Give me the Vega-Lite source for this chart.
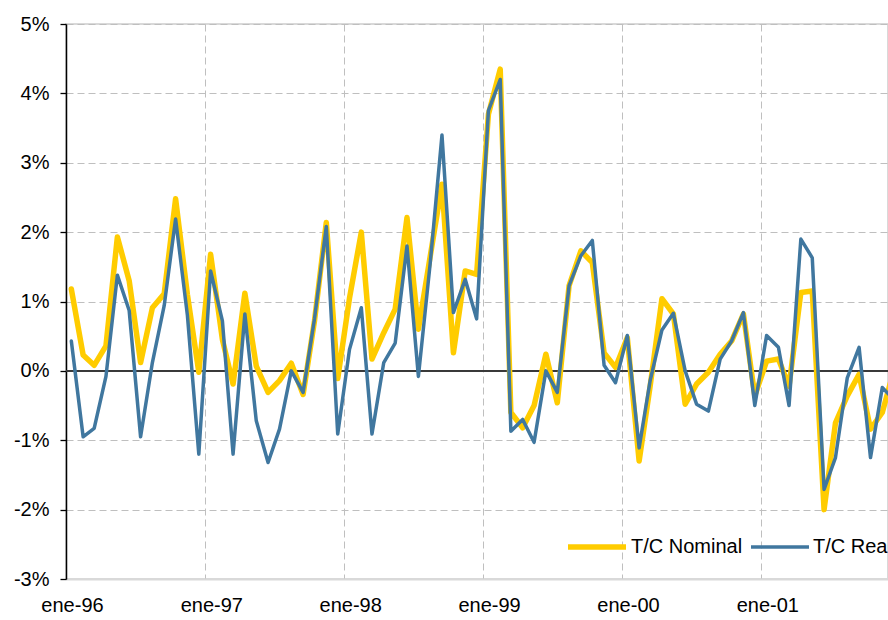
{
  "$schema": "https://vega.github.io/schema/vega-lite/v6.json",
  "width": 822,
  "height": 555,
  "autosize": {"type": "none"},
  "padding": {"left": 66, "top": 24, "right": 0, "bottom": 41},
  "background": "white",
  "config": {
    "font": "Liberation Sans",
    "view": {"stroke": "#D9D9D9", "strokeWidth": 2}
  },
  "datasets": {
    "tc": [
      {"date": "1996-01-15", "series": "T/C Nominal", "value": 1.18}, {"date": "1996-01-15", "series": "T/C Real", "value": 0.43},
      {"date": "1996-02-15", "series": "T/C Nominal", "value": 0.23}, {"date": "1996-02-15", "series": "T/C Real", "value": -0.95},
      {"date": "1996-03-15", "series": "T/C Nominal", "value": 0.08}, {"date": "1996-03-15", "series": "T/C Real", "value": -0.83},
      {"date": "1996-04-15", "series": "T/C Nominal", "value": 0.36}, {"date": "1996-04-15", "series": "T/C Real", "value": -0.08},
      {"date": "1996-05-15", "series": "T/C Nominal", "value": 1.93}, {"date": "1996-05-15", "series": "T/C Real", "value": 1.38},
      {"date": "1996-06-15", "series": "T/C Nominal", "value": 1.30}, {"date": "1996-06-15", "series": "T/C Real", "value": 0.87},
      {"date": "1996-07-15", "series": "T/C Nominal", "value": 0.12}, {"date": "1996-07-15", "series": "T/C Real", "value": -0.95},
      {"date": "1996-08-15", "series": "T/C Nominal", "value": 0.91}, {"date": "1996-08-15", "series": "T/C Real", "value": 0.12},
      {"date": "1996-09-15", "series": "T/C Nominal", "value": 1.11}, {"date": "1996-09-15", "series": "T/C Real", "value": 0.94},
      {"date": "1996-10-15", "series": "T/C Nominal", "value": 2.48}, {"date": "1996-10-15", "series": "T/C Real", "value": 2.19},
      {"date": "1996-11-15", "series": "T/C Nominal", "value": 1.10}, {"date": "1996-11-15", "series": "T/C Real", "value": 0.80},
      {"date": "1996-12-15", "series": "T/C Nominal", "value": -0.02}, {"date": "1996-12-15", "series": "T/C Real", "value": -1.20},
      {"date": "1997-01-15", "series": "T/C Nominal", "value": 1.68}, {"date": "1997-01-15", "series": "T/C Real", "value": 1.44},
      {"date": "1997-02-15", "series": "T/C Nominal", "value": 0.45}, {"date": "1997-02-15", "series": "T/C Real", "value": 0.72},
      {"date": "1997-03-15", "series": "T/C Nominal", "value": -0.19}, {"date": "1997-03-15", "series": "T/C Real", "value": -1.20},
      {"date": "1997-04-15", "series": "T/C Nominal", "value": 1.12}, {"date": "1997-04-15", "series": "T/C Real", "value": 0.82},
      {"date": "1997-05-15", "series": "T/C Nominal", "value": 0.07}, {"date": "1997-05-15", "series": "T/C Real", "value": -0.72},
      {"date": "1997-06-15", "series": "T/C Nominal", "value": -0.31}, {"date": "1997-06-15", "series": "T/C Real", "value": -1.32},
      {"date": "1997-07-15", "series": "T/C Nominal", "value": -0.14}, {"date": "1997-07-15", "series": "T/C Real", "value": -0.84},
      {"date": "1997-08-15", "series": "T/C Nominal", "value": 0.11}, {"date": "1997-08-15", "series": "T/C Real", "value": 0.0},
      {"date": "1997-09-15", "series": "T/C Nominal", "value": -0.34}, {"date": "1997-09-15", "series": "T/C Real", "value": -0.31},
      {"date": "1997-10-15", "series": "T/C Nominal", "value": 0.72}, {"date": "1997-10-15", "series": "T/C Real", "value": 0.75},
      {"date": "1997-11-15", "series": "T/C Nominal", "value": 2.14}, {"date": "1997-11-15", "series": "T/C Real", "value": 2.08},
      {"date": "1997-12-15", "series": "T/C Nominal", "value": -0.11}, {"date": "1997-12-15", "series": "T/C Real", "value": -0.91},
      {"date": "1998-01-15", "series": "T/C Nominal", "value": 1.05}, {"date": "1998-01-15", "series": "T/C Real", "value": 0.31},
      {"date": "1998-02-15", "series": "T/C Nominal", "value": 2.00}, {"date": "1998-02-15", "series": "T/C Real", "value": 0.91},
      {"date": "1998-03-15", "series": "T/C Nominal", "value": 0.17}, {"date": "1998-03-15", "series": "T/C Real", "value": -0.91},
      {"date": "1998-04-15", "series": "T/C Nominal", "value": 0.55}, {"date": "1998-04-15", "series": "T/C Real", "value": 0.12},
      {"date": "1998-05-15", "series": "T/C Nominal", "value": 0.89}, {"date": "1998-05-15", "series": "T/C Real", "value": 0.40},
      {"date": "1998-06-15", "series": "T/C Nominal", "value": 2.21}, {"date": "1998-06-15", "series": "T/C Real", "value": 1.80},
      {"date": "1998-07-15", "series": "T/C Nominal", "value": 0.60}, {"date": "1998-07-15", "series": "T/C Real", "value": -0.08},
      {"date": "1998-08-15", "series": "T/C Nominal", "value": 1.65}, {"date": "1998-08-15", "series": "T/C Real", "value": 1.55},
      {"date": "1998-09-15", "series": "T/C Nominal", "value": 2.69}, {"date": "1998-09-15", "series": "T/C Real", "value": 3.40},
      {"date": "1998-10-15", "series": "T/C Nominal", "value": 0.26}, {"date": "1998-10-15", "series": "T/C Real", "value": 0.84},
      {"date": "1998-11-15", "series": "T/C Nominal", "value": 1.44}, {"date": "1998-11-15", "series": "T/C Real", "value": 1.32},
      {"date": "1998-12-15", "series": "T/C Nominal", "value": 1.39}, {"date": "1998-12-15", "series": "T/C Real", "value": 0.75},
      {"date": "1999-01-15", "series": "T/C Nominal", "value": 3.70}, {"date": "1999-01-15", "series": "T/C Real", "value": 3.75},
      {"date": "1999-02-15", "series": "T/C Nominal", "value": 4.35}, {"date": "1999-02-15", "series": "T/C Real", "value": 4.20},
      {"date": "1999-03-15", "series": "T/C Nominal", "value": -0.60}, {"date": "1999-03-15", "series": "T/C Real", "value": -0.87},
      {"date": "1999-04-15", "series": "T/C Nominal", "value": -0.82}, {"date": "1999-04-15", "series": "T/C Real", "value": -0.70},
      {"date": "1999-05-15", "series": "T/C Nominal", "value": -0.50}, {"date": "1999-05-15", "series": "T/C Real", "value": -1.03},
      {"date": "1999-06-15", "series": "T/C Nominal", "value": 0.24}, {"date": "1999-06-15", "series": "T/C Real", "value": 0.0},
      {"date": "1999-07-15", "series": "T/C Nominal", "value": -0.46}, {"date": "1999-07-15", "series": "T/C Real", "value": -0.31},
      {"date": "1999-08-15", "series": "T/C Nominal", "value": 1.23}, {"date": "1999-08-15", "series": "T/C Real", "value": 1.23},
      {"date": "1999-09-15", "series": "T/C Nominal", "value": 1.73}, {"date": "1999-09-15", "series": "T/C Real", "value": 1.66},
      {"date": "1999-10-15", "series": "T/C Nominal", "value": 1.56}, {"date": "1999-10-15", "series": "T/C Real", "value": 1.88},
      {"date": "1999-11-15", "series": "T/C Nominal", "value": 0.26}, {"date": "1999-11-15", "series": "T/C Real", "value": 0.08},
      {"date": "1999-12-15", "series": "T/C Nominal", "value": 0.05}, {"date": "1999-12-15", "series": "T/C Real", "value": -0.17},
      {"date": "2000-01-15", "series": "T/C Nominal", "value": 0.48}, {"date": "2000-01-15", "series": "T/C Real", "value": 0.51},
      {"date": "2000-02-15", "series": "T/C Nominal", "value": -1.30}, {"date": "2000-02-15", "series": "T/C Real", "value": -1.11},
      {"date": "2000-03-15", "series": "T/C Nominal", "value": -0.22}, {"date": "2000-03-15", "series": "T/C Real", "value": -0.14},
      {"date": "2000-04-15", "series": "T/C Nominal", "value": 1.04}, {"date": "2000-04-15", "series": "T/C Real", "value": 0.59},
      {"date": "2000-05-15", "series": "T/C Nominal", "value": 0.82}, {"date": "2000-05-15", "series": "T/C Real", "value": 0.83},
      {"date": "2000-06-15", "series": "T/C Nominal", "value": -0.48}, {"date": "2000-06-15", "series": "T/C Real", "value": 0.0},
      {"date": "2000-07-15", "series": "T/C Nominal", "value": -0.19}, {"date": "2000-07-15", "series": "T/C Real", "value": -0.48},
      {"date": "2000-08-15", "series": "T/C Nominal", "value": -0.02}, {"date": "2000-08-15", "series": "T/C Real", "value": -0.58},
      {"date": "2000-09-15", "series": "T/C Nominal", "value": 0.24}, {"date": "2000-09-15", "series": "T/C Real", "value": 0.17},
      {"date": "2000-10-15", "series": "T/C Nominal", "value": 0.43}, {"date": "2000-10-15", "series": "T/C Real", "value": 0.43},
      {"date": "2000-11-15", "series": "T/C Nominal", "value": 0.82}, {"date": "2000-11-15", "series": "T/C Real", "value": 0.84},
      {"date": "2000-12-15", "series": "T/C Nominal", "value": -0.36}, {"date": "2000-12-15", "series": "T/C Real", "value": -0.50},
      {"date": "2001-01-15", "series": "T/C Nominal", "value": 0.14}, {"date": "2001-01-15", "series": "T/C Real", "value": 0.51},
      {"date": "2001-02-15", "series": "T/C Nominal", "value": 0.17}, {"date": "2001-02-15", "series": "T/C Real", "value": 0.34},
      {"date": "2001-03-15", "series": "T/C Nominal", "value": -0.22}, {"date": "2001-03-15", "series": "T/C Real", "value": -0.50},
      {"date": "2001-04-15", "series": "T/C Nominal", "value": 1.13}, {"date": "2001-04-15", "series": "T/C Real", "value": 1.90},
      {"date": "2001-05-15", "series": "T/C Nominal", "value": 1.15}, {"date": "2001-05-15", "series": "T/C Real", "value": 1.63},
      {"date": "2001-06-15", "series": "T/C Nominal", "value": -2.00}, {"date": "2001-06-15", "series": "T/C Real", "value": -1.71},
      {"date": "2001-07-15", "series": "T/C Nominal", "value": -0.75}, {"date": "2001-07-15", "series": "T/C Real", "value": -1.25},
      {"date": "2001-08-15", "series": "T/C Nominal", "value": -0.36}, {"date": "2001-08-15", "series": "T/C Real", "value": -0.10},
      {"date": "2001-09-15", "series": "T/C Nominal", "value": -0.05}, {"date": "2001-09-15", "series": "T/C Real", "value": 0.34},
      {"date": "2001-10-15", "series": "T/C Nominal", "value": -0.84}, {"date": "2001-10-15", "series": "T/C Real", "value": -1.25},
      {"date": "2001-11-15", "series": "T/C Nominal", "value": -0.60}, {"date": "2001-11-15", "series": "T/C Real", "value": -0.24},
      {"date": "2001-12-15", "series": "T/C Nominal", "value": 0.0}, {"date": "2001-12-15", "series": "T/C Real", "value": -0.41}
    ]
  },
  "data": {"name": "tc"},
  "layer": [
    {
      "mark": {"type": "rule", "color": "#3A3A3A", "strokeWidth": 1.3},
      "encoding": {"y": {"datum": 0, "type": "quantitative"}}
    },
    {
      "mark": {"type": "line", "clip": true, "strokeJoin": "round", "strokeCap": "round"},
      "encoding": {
        "x": {
          "field": "date",
          "type": "temporal",
          "scale": {"type": "utc", "domain": ["1996-01-01", "2001-11-30"], "nice": false},
          "axis": {
            "title": null,
            "values": [
              {"year": 1996, "month": 1, "date": 1, "utc": true},
              {"year": 1997, "month": 1, "date": 1, "utc": true},
              {"year": 1998, "month": 1, "date": 1, "utc": true},
              {"year": 1999, "month": 1, "date": 1, "utc": true},
              {"year": 2000, "month": 1, "date": 1, "utc": true},
              {"year": 2001, "month": 1, "date": 1, "utc": true}
            ],
            "labelExpr": "'ene-' + utcFormat(datum.value, '%y')",
            "labelOffset": 6,
            "labelFlush": false,
            "labelOverlap": false,
            "ticks": false,
            "domainColor": "#D9D9D9",
            "domainWidth": 2,
            "grid": true,
            "gridColor": "#BFBFBF",
            "gridDash": [7, 4],
            "gridWidth": 1,
            "labelFontSize": 20,
            "labelColor": "#000000",
            "labelPadding": 16
          }
        },
        "y": {
          "field": "value",
          "type": "quantitative",
          "scale": {"domain": [-3, 5], "nice": false, "zero": false},
          "axis": {
            "title": null,
            "values": [-3, -2.5, -2, -1.5, -1, -0.5, 0, 0.5, 1, 1.5, 2, 2.5, 3, 3.5, 4, 4.5, 5],
            "labelExpr": "datum.value % 1 === 0 ? datum.value + '%' : ''",
            "domainColor": "#000000",
            "domainWidth": 1.5,
            "tickColor": "#000000",
            "tickSize": 6,
            "tickWidth": 1.3,
            "tickOpacity": {"condition": {"test": "datum.value % 1 !== 0", "value": 0}, "value": 1},
            "labelFontSize": 20,
            "labelColor": "#000000",
            "labelPadding": 11,
            "grid": true,
            "gridColor": "#BFBFBF",
            "gridDash": [7, 4],
            "gridWidth": 1
          }
        },
        "color": {
          "field": "series",
          "type": "nominal",
          "scale": {"domain": ["T/C Nominal", "T/C Real"], "range": ["#FFCC00", "#40779F"]},
          "legend": {
            "title": null,
            "orient": "none",
            "legendX": 499,
            "legendY": 491,
            "direction": "horizontal",
            "symbolType": "stroke",
            "symbolSize": 3364,
            "symbolStrokeWidth": 4,
            "labelFontSize": 20,
            "labelColor": "#000000",
            "labelOffset": 2,
            "columnPadding": 1,
            "padding": 0,
            "labelLimit": 300,
            "encode": {
              "symbols": {"update": {"strokeWidth": {"signal": "datum.value === 'T/C Nominal' ? 5 : 3.5"}}}
            }
          }
        },
        "strokeWidth": {
          "field": "series",
          "type": "nominal",
          "scale": {"domain": ["T/C Nominal", "T/C Real"], "range": [5.5, 3.5]},
          "legend": null
        }
      }
    }
  ]
}
